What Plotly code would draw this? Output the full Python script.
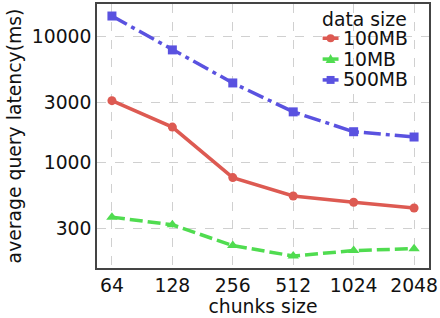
import plotly.graph_objects as go

chunk_sizes = ["64", "128", "256", "512", "1024", "2048"]
lat_100mb = [3100, 1910, 757, 540, 482, 434]
lat_10mb = [367, 319, 218, 180, 199, 206]
lat_500mb = [14600, 7850, 4285, 2523, 1754, 1592]
y_tick_vals = [300, 1000, 3000, 10000]
y_tick_text = ["300", "1000", "3000", "10000"]
series_names = ["100MB", "10MB", "500MB"]
legend_title = "data size"

red = "#dd5a52"
green = "#50dc50"
blue = "#5a52e0"
colors = [red, green, blue]
dashes = ["solid", "13px,5px", "17px,5px,4px,5px"]
symbols = ["circle", "triangle-up", "square"]
series = [lat_100mb, lat_10mb, lat_500mb]

FS = 18.8
fig = go.Figure()
for name, vals, col, dsh, sym in zip(series_names, series, colors, dashes, symbols):
    fig.add_trace(go.Scatter(x=chunk_sizes, y=vals, name=name, mode="lines+markers",
                             line=dict(color=col, width=3.5, dash=dsh),
                             marker=dict(symbol=sym, size=9 if sym != "triangle-up" else 10, color=col),
                             showlegend=False))

axis_common = dict(showline=True, linecolor="#444444", linewidth=1.5, mirror=True,
                   showgrid=True, gridcolor="#d0d0d0", griddash="dash", gridwidth=1,
                   ticks="", zeroline=False,
                   tickfont=dict(family="DejaVu Sans", size=FS, color="#111111"))

# plot area in pixels: left 97, right 431, top 2, bottom 268
L, R, T, B = 97, 431, 2, 268
def px(x):
    return (x - L) / (R - L)
def py(y):
    return (B - y) / (B - T)

annotations = [dict(text=legend_title, x=px(366), y=py(18), xref="paper", yref="paper",
                    xanchor="center", yanchor="middle", showarrow=False,
                    font=dict(size=FS, color="#111111"))]
shapes = []
row_y = [36.5, 57.5, 78.5]
for name, col, sym, ry in zip(series_names, colors, symbols, row_y):
    annotations.append(dict(text=name, x=px(342), y=py(ry), xref="paper", yref="paper",
                            xanchor="left", yanchor="middle", showarrow=False,
                            font=dict(size=FS, color="#111111")))
    shapes.append(dict(type="line", xref="paper", yref="paper", x0=px(324), x1=px(340),
                       y0=py(ry), y1=py(ry), line=dict(color=col, width=3.5)))
    cx, cy = 332, ry
    if sym == "circle":
        shapes.append(dict(type="circle", xref="paper", yref="paper",
                           x0=px(cx - 4), x1=px(cx + 4), y0=py(cy + 4), y1=py(cy - 4),
                           fillcolor=col, line=dict(width=0)))
    elif sym == "square":
        shapes.append(dict(type="rect", xref="paper", yref="paper",
                           x0=px(cx - 4), x1=px(cx + 4), y0=py(cy + 4), y1=py(cy - 4),
                           fillcolor=col, line=dict(width=0)))
    else:
        shapes.append(dict(type="path", xref="paper", yref="paper",
                           path=f"M {px(cx-5)},{py(cy+4)} L {px(cx+5)},{py(cy+4)} L {px(cx)},{py(cy-5)} Z",
                           fillcolor=col, line=dict(width=0)))

fig.update_layout(
    width=440, height=318,
    margin=dict(l=L, r=440 - R, t=T, b=318 - B),
    paper_bgcolor="white", plot_bgcolor="white",
    font=dict(family="DejaVu Sans", size=FS, color="#111111"),
    xaxis=dict(type="category", range=[-0.247, 5.247],
               title=dict(text="chunks size", font=dict(size=FS), standoff=0),
               **axis_common),
    yaxis=dict(type="log", range=[2.16, 4.26], tickvals=y_tick_vals, ticktext=y_tick_text,
               title=dict(text="average query latency(ms)", font=dict(size=FS), standoff=5),
               **axis_common),
    annotations=annotations,
    shapes=shapes,
)

fig.write_html("out.html", config={"displayModeBar": False},
               post_script="document.body.style.margin='0';document.body.style.padding='0';")
